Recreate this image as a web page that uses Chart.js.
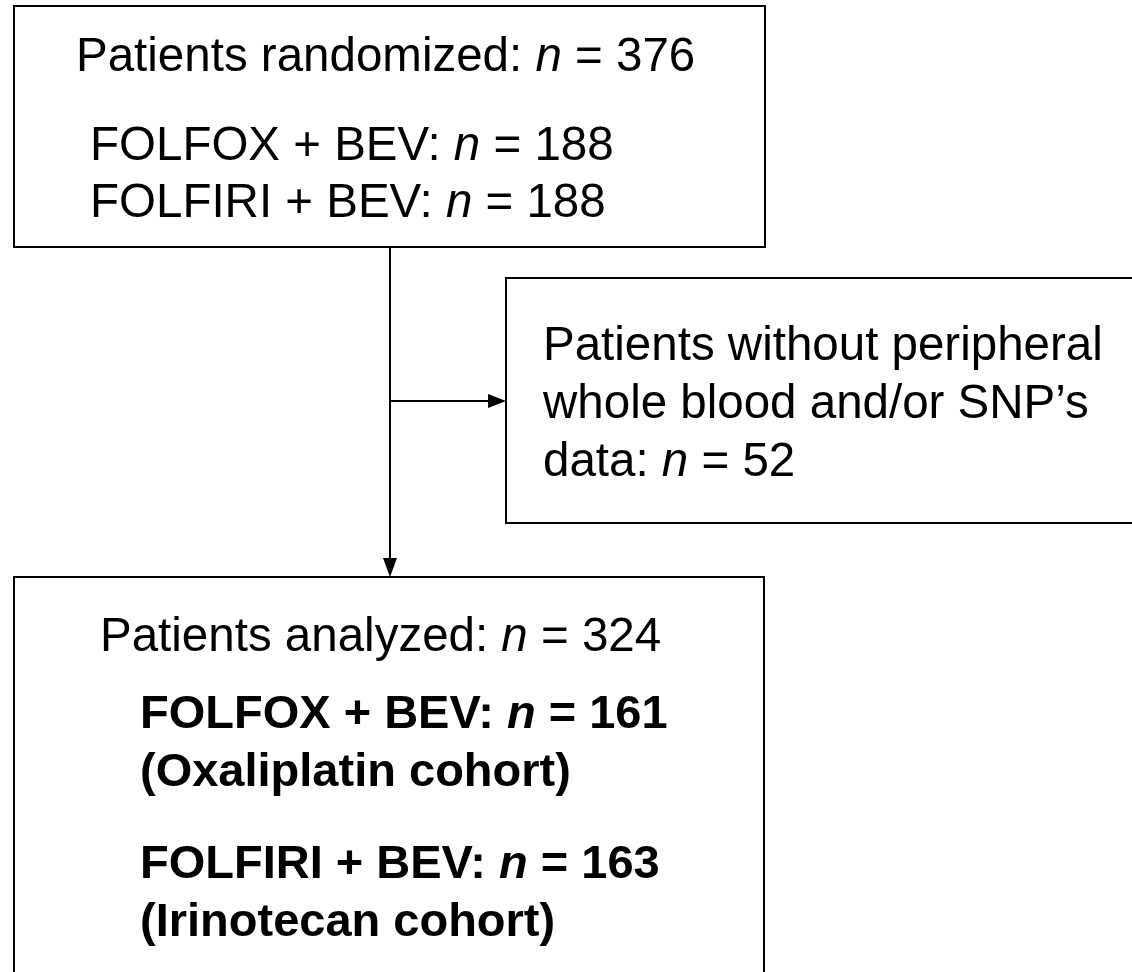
<!DOCTYPE html>
<html>
<head>
<meta charset="utf-8">
<script src="https://cdn.jsdelivr.net/npm/chart.js@4.4.1/dist/chart.umd.min.js"></script>
<style>
  html, body { margin: 0; padding: 0; background: #fff; overflow: hidden; }
  #wrap { width: 1132px; height: 972px; }
</style>
</head>
<body>
<div id="wrap"><canvas id="myChart"></canvas></div>
<script>
// flowchart content
const stageLabels = ['Patients randomized', 'Patients analyzed'];
const stageCounts = [376, 324];
const armLabels = ['FOLFOX + BEV', 'FOLFIRI + BEV'];
const randomizedCounts = [188, 188];
const analyzedCounts = [161, 163];
const cohortLabels = ['(Oxaliplatin cohort)', '(Irinotecan cohort)'];
const excludedLines = ['Patients without peripheral', 'whole blood and/or SNP\u2019s', 'data'];
const excludedCount = 52;

// layout in scale units (0..1132 x 0..972)
const boxes = [
  { x0: 14, y0: 6, x1: 765, y1: 247 },
  { x0: 506, y0: 278, x1: 1145, y1: 523 },
  { x0: 14, y0: 577, x1: 764, y1: 995 }
];
const FONT = '"Liberation Sans", Arial, Helvetica, sans-serif';

function nLine(label, count) {
  return [[label + ': ', ''], ['n', 'italic '], [' = ' + count, '']];
}

const textLines = [
  { x: 76, y: 71, size: 47.5, bold: false, segs: nLine(stageLabels[0], stageCounts[0]) },
  { x: 90, y: 160, size: 47.5, bold: false, segs: nLine(armLabels[0], randomizedCounts[0]) },
  { x: 90, y: 217, size: 47.5, bold: false, segs: nLine(armLabels[1], randomizedCounts[1]) },
  { x: 543, y: 360, size: 47.5, bold: false, segs: [[excludedLines[0], '']] },
  { x: 543, y: 418, size: 47.5, bold: false, segs: [[excludedLines[1], '']] },
  { x: 543, y: 476, size: 47.5, bold: false, segs: nLine(excludedLines[2], excludedCount) },
  { x: 100, y: 651, size: 47.5, bold: false, segs: nLine(stageLabels[1], stageCounts[1]) },
  { x: 140, y: 728, size: 47, bold: true, segs: nLine(armLabels[0], analyzedCounts[0]) },
  { x: 140, y: 786, size: 47, bold: true, segs: [[cohortLabels[0], '']] },
  { x: 140, y: 878, size: 47, bold: true, segs: nLine(armLabels[1], analyzedCounts[1]) },
  { x: 140, y: 936, size: 47, bold: true, segs: [[cohortLabels[1], '']] }
];

const flowPlugin = {
  id: 'flow',
  afterDraw(chart) {
    const ctx = chart.ctx;
    const sx = chart.scales.x, sy = chart.scales.y;
    const X = v => sx.getPixelForValue(v);
    const Y = v => sy.getPixelForValue(v);
    ctx.save();
    ctx.strokeStyle = '#000';
    ctx.fillStyle = '#000';
    ctx.lineWidth = 2;
    boxes.forEach(b => {
      ctx.strokeRect(X(b.x0), Y(b.y0), X(b.x1) - X(b.x0), Y(b.y1) - Y(b.y0));
    });
    // connector lines
    const cx = X(390);
    ctx.beginPath();
    ctx.moveTo(cx, Y(247));
    ctx.lineTo(cx, Y(560));
    ctx.moveTo(cx, Y(401));
    ctx.lineTo(X(490), Y(401));
    ctx.stroke();
    // arrowheads
    ctx.beginPath();
    ctx.moveTo(cx, Y(577));
    ctx.lineTo(cx - 7, Y(558));
    ctx.lineTo(cx + 7, Y(558));
    ctx.closePath();
    ctx.fill();
    ctx.beginPath();
    ctx.moveTo(X(506), Y(401));
    ctx.lineTo(X(488), Y(394));
    ctx.lineTo(X(488), Y(408));
    ctx.closePath();
    ctx.fill();
    // text
    ctx.textBaseline = 'alphabetic';
    ctx.textAlign = 'left';
    textLines.forEach(l => {
      let px = X(l.x);
      l.segs.forEach(([t, st]) => {
        ctx.font = st + (l.bold ? 'bold ' : '') + l.size + 'px ' + FONT;
        ctx.fillText(t, px, Y(l.y));
        px += ctx.measureText(t).width;
      });
    });
    ctx.restore();
  }
};

new Chart(document.getElementById('myChart'), {
  type: 'scatter',
  data: { datasets: [{ data: [], pointRadius: 0 }] },
  options: {
    responsive: true,
    maintainAspectRatio: false,
    animation: false,
    layout: { padding: 0 },
    plugins: { legend: { display: false }, tooltip: { enabled: false } },
    scales: {
      x: { type: 'linear', min: 0, max: 1132, display: false },
      y: { type: 'linear', min: 0, max: 972, reverse: true, display: false }
    }
  },
  plugins: [flowPlugin]
});
</script>
</body>
</html>
